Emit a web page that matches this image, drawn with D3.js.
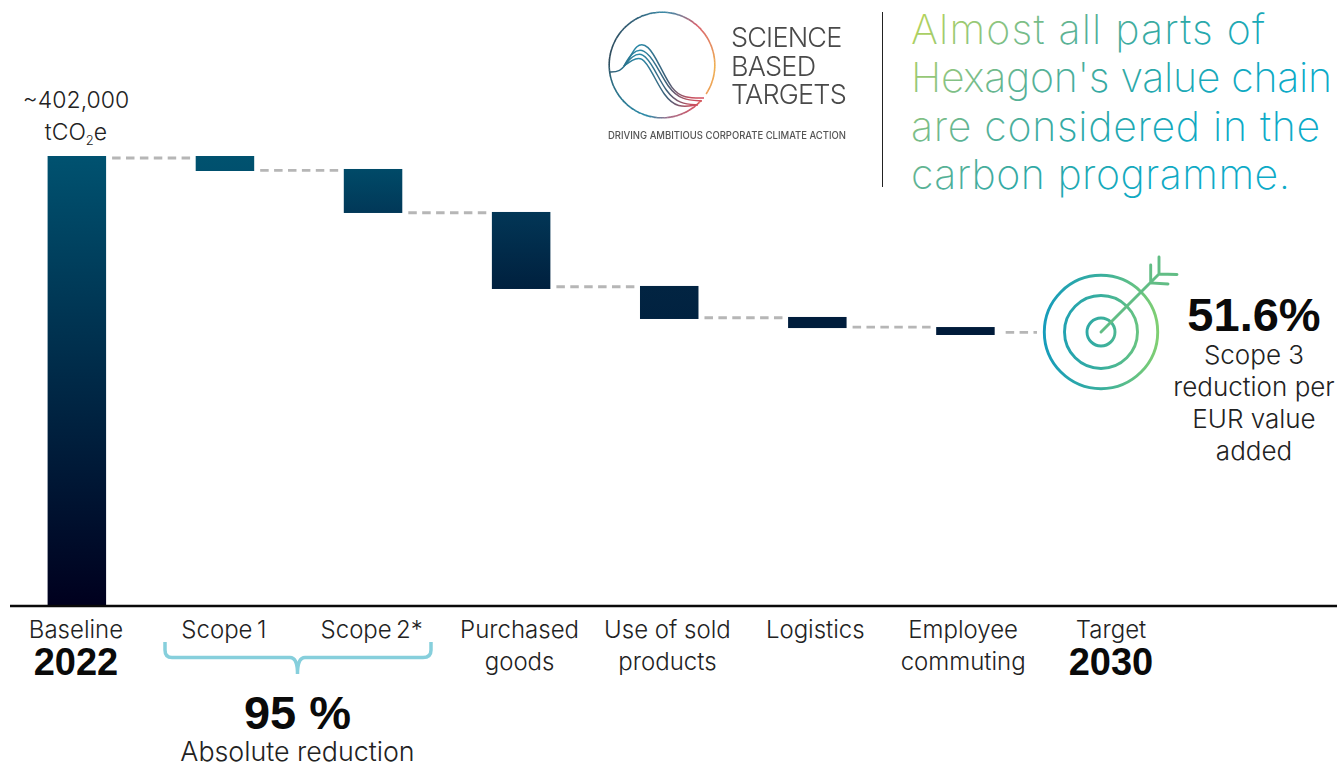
<!DOCTYPE html>
<html>
<head>
<meta charset="utf-8">
<style>
html,body{margin:0;padding:0;background:#fff;overflow:hidden}
svg{display:block}
text{font-family:"Inter","Liberation Sans",sans-serif;fill:#222}
text.num{font-family:"Liberation Sans",sans-serif;font-weight:700;fill:#0a0a0a}
</style>
<script src="https://cdnjs.cloudflare.com/ajax/libs/d3/7.8.5/d3.min.js"></script>
</head>
<body>
<script>
// Waterfall of emissions (tCO2e) from the 2022 baseline towards the 2030 target
const baselineValue = 402000;
const categories = ["Baseline", "Scope 1", "Scope 2*", "Purchased goods", "Use of sold products", "Logistics", "Employee commuting"];
const barTops    = [402000, 402000, 390400, 352000, 285900, 258200, 249200];
const barBottoms = [0, 388600, 351100, 283200, 256400, 248300, 242100];
const barStart   = ["#005270", "#00526f", "#004a68", "#023656", "#022442", "#001d3c", "#001b3a"];
const barEnd     = ["#00001e", "#00506e", "#013858", "#00203e", "#012240", "#001d3c", "#001b3a"];
const connectors = [400200, 389200, 351300, 285200, 257500, 249200, 244500];
const axisLabels = [["Baseline"], ["Scope\u20091"], ["Scope\u20092*"], ["Purchased", "goods"], ["Use of sold", "products"], ["Logistics"], ["Employee", "commuting"], ["Target"]];
const axisYears = {0: "2022", 7: "2030"};
const headline = ["Almost all parts of", "Hexagon's value chain", "are considered in the", "carbon programme."];
const headlineWidths = [354, 421, 409, 379];
const scope3Text = ["Scope 3", "reduction per", "EUR value", "added"];
const logoWords = ["SCIENCE", "BASED", "TARGETS"];
// Ring colours of the logo, by clockwise angle from twelve o'clock
const ringAngles = [0, 12, 40, 90, 126, 138, 170, 195, 250, 275, 330, 360];
const ringColors = ["#3c8aa6", "#5b84a0", "#d8606c", "#efb052", "#ec9a55", "#d4505f", "#a86f8a", "#2a8aa8", "#2a6a80", "#2f4a5a", "#2f5f78", "#3c8aa6"];

const width = 1337, height = 763;
const svg = d3.select("body").append("svg").attr("width", width).attr("height", height);
const defs = svg.append("defs");

const y = d3.scaleLinear().domain([0, baselineValue]).range([606, 156]);
const x = d3.scaleBand().domain(d3.range(8)).range([3.17, 1187.2]).paddingInner(0.605).paddingOuter(0.3);
// Category captions sit on a slightly tighter grid than the bars
const labelX = d3.scalePoint().domain(d3.range(8)).range([76, 1111]);

function linear(id, x1, y1, x2, y2, stops, units) {
  const g = defs.append("linearGradient").attr("id", id)
    .attr("x1", x1).attr("y1", y1).attr("x2", x2).attr("y2", y2);
  if (units) g.attr("gradientUnits", units);
  stops.forEach(s => g.append("stop").attr("offset", s[0]).attr("stop-color", s[1]));
}

categories.forEach((c, i) => linear("bar" + i, 0, 0, 0, 1, [[0, barStart[i]], [1, barEnd[i]]]));
linear("headlineFill", 911, 20, 1136, 245,
  [[0, "#b5d35a"], [0.2, "#8cc480"], [0.38, "#5cb294"], [0.6, "#30a8a4"], [0.85, "#12a8bf"], [1, "#0ea9c6"]], "userSpaceOnUse");
linear("targetFill", 1044, 0, 1158, 0, [[0, "#169cbb"], [0.5, "#38ae9e"], [1, "#80cf72"]], "userSpaceOnUse");
linear("waveFill", 610, 0, 704, 0, [[0, "#2f5a70"], [0.3, "#2a8aa8"], [0.6, "#3c5f78"], [0.85, "#c4505f"], [1, "#d4505f"]], "userSpaceOnUse");
defs.append("filter").attr("id", "soft").append("feGaussianBlur").attr("stdDeviation", 0.45);

// Dashed links between consecutive bars
svg.append("g").attr("stroke", "#b6b6b6").attr("stroke-width", 2.8).attr("stroke-dasharray", "8.5 5.4")
  .selectAll("line").data(connectors).join("line")
  .attr("x1", (d, i) => x(i) + x.bandwidth() + (i < 6 ? 6 : 11))
  .attr("x2", (d, i) => i < 6 ? x(i + 1) - 5 : 1037)
  .attr("y1", d => y(d)).attr("y2", d => y(d));

// Bars
svg.append("g").selectAll("rect").data(categories).join("rect")
  .attr("x", (d, i) => x(i)).attr("width", x.bandwidth())
  .attr("y", (d, i) => y(barTops[i]))
  .attr("height", (d, i) => y(barBottoms[i]) - y(barTops[i]))
  .attr("fill", (d, i) => `url(#bar${i})`);

// Baseline axis
svg.append("line").attr("x1", 10).attr("x2", 1337).attr("y1", y(0)).attr("y2", y(0))
  .attr("stroke", "#0a0a0a").attr("stroke-width", 2.6);

const light = 300;
function label(px, py, str, size, weight, anchor) {
  return svg.append("text").attr("x", px).attr("y", py).attr("font-size", size)
    .attr("font-weight", weight).attr("text-anchor", anchor || "middle").text(str);
}
function figure(px, py, str, size) {
  return label(px, py, str, size, 700).attr("class", "num");
}

axisLabels.forEach((lines, i) => {
  lines.forEach((l, k) => label(labelX(i), 637.5 + k * 32, l, 24, light));
  if (axisYears[i]) figure(labelX(i), 675, axisYears[i], 38);
});

// Value above the baseline bar
label(76, 107.5, "~402,000", 23, light);
const unit = label(76, 139.5, "tCO", 23, light);
unit.append("tspan").attr("font-size", 13).attr("dy", 5).text("2");
unit.append("tspan").attr("dy", -5).text("e");

// Brace under Scope 1 and Scope 2
const brace = d3.path();
brace.moveTo(165, 642); brace.lineTo(165, 650); brace.quadraticCurveTo(165, 657.5, 172, 657.5);
brace.lineTo(290, 657.5); brace.quadraticCurveTo(297.5, 657.5, 297.5, 674);
brace.quadraticCurveTo(297.5, 657.5, 305, 657.5);
brace.lineTo(423, 657.5); brace.quadraticCurveTo(431, 657.5, 431, 650); brace.lineTo(431, 642);
svg.append("path").attr("d", brace.toString()).attr("fill", "none")
  .attr("stroke", "#86cfdc").attr("stroke-width", 3.5);
figure(297.5, 729, "95 %", 47);
label(297.5, 761, "Absolute reduction", 26.8, light);

// Headline, split off by a thin rule
svg.append("line").attr("x1", 882.5).attr("x2", 882.5).attr("y1", 12).attr("y2", 187)
  .attr("stroke", "#222").attr("stroke-width", 1);
headline.forEach((l, i) => label(911, 44.2 + i * 48.2, l, 41, 250, "start")
  .style("fill", "url(#headlineFill)")
  .attr("textLength", headlineWidths[i]).attr("lengthAdjust", "spacing"));

// Science Based Targets mark
const logo = svg.append("g").attr("filter", "url(#soft)");
const ringColor = d3.scaleLinear().domain(ringAngles).range(ringColors);
const ringArc = d3.arc().innerRadius(52).outerRadius(53.6);
d3.range(0, 360, 3).filter(a => a < 122 || a > 131).forEach(a => {
  logo.append("path")
    .attr("d", ringArc({startAngle: a * Math.PI / 180, endAngle: (a + 3.3) * Math.PI / 180}))
    .attr("transform", "translate(662,65)").attr("fill", ringColor(a));
});
const curve = d3.line().curve(d3.curveBasis);
const waves = [
  [[609,72],[620,72],[628,62],[636,44],[648,44],[660,66],[672,90],[684,98],[704,98]],
  [[624,66],[632,52],[644,48],[656,64],[668,88],[682,100],[702,101]],
  [[624,66],[632,56],[643,52],[654,68],[666,92],[680,104],[698,105]],
  [[624,66],[632,60],[642,56],[652,72],[664,96],[678,108],[696,105]]
];
waves.forEach(w => logo.append("path").attr("d", curve(w)).attr("fill", "none")
  .attr("stroke", "url(#waveFill)").attr("stroke-width", 1.5));
logoWords.forEach((w, i) => {
  label(731, 47 + i * 28.5, w, 27, 300, "start").style("fill", "#4a4a4a").attr("letter-spacing", -0.8)
    .attr("filter", "url(#soft)");
});
label(608, 139, "DRIVING AMBITIOUS CORPORATE CLIMATE ACTION", 10.4, 500, "start").style("fill", "#555")
  .attr("textLength", 238).attr("lengthAdjust", "spacingAndGlyphs").attr("filter", "url(#soft)");

// Target icon with arrow
const target = svg.append("g").attr("fill", "none").attr("stroke", "url(#targetFill)").attr("stroke-width", 2.9);
[56.7, 36.5, 14].forEach(r => target.append("circle").attr("cx", 1101).attr("cy", 332).attr("r", r));
const arrowPath = d3.path();
arrowPath.moveTo(1101, 332); arrowPath.lineTo(1159, 274);
arrowPath.moveTo(1150.7, 265); arrowPath.lineTo(1150.7, 283); arrowPath.lineTo(1168, 284);
arrowPath.moveTo(1159, 257); arrowPath.lineTo(1159, 274); arrowPath.lineTo(1177, 274.5);
target.append("path").attr("d", arrowPath.toString()).attr("stroke-linecap", "round").attr("stroke", "#62bd85");

figure(1254, 331, "51.6%", 47);
scope3Text.forEach((l, i) => label(1254, 363.5 + i * 32, l, 26, light));
</script>
</body>
</html>
